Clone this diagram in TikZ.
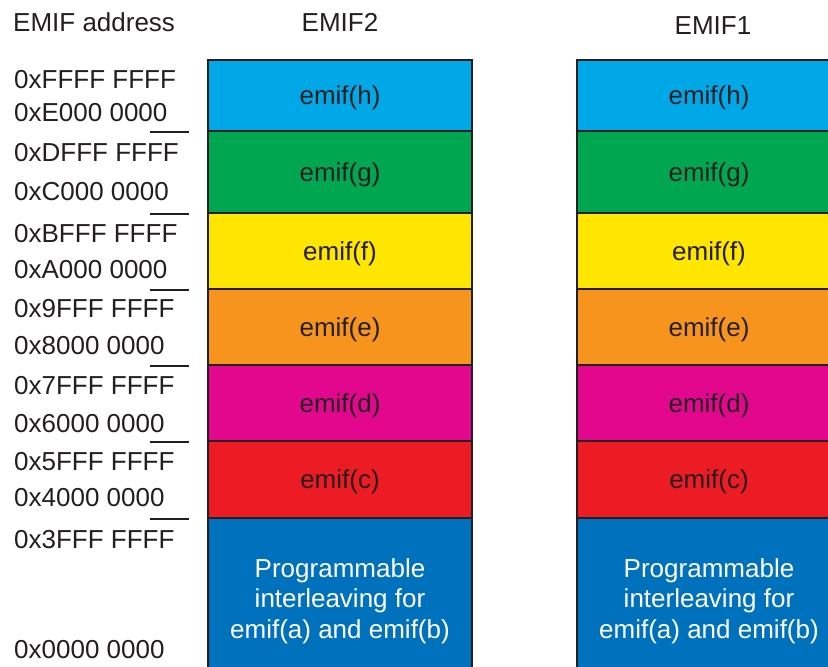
\documentclass[tikz,border=0pt]{standalone}
\usepackage{fontspec}
\setmainfont{Liberation Sans}
\usepackage{tikz}
\usetikzlibrary{positioning}
\definecolor{emifh}{HTML}{00A8E8}
\definecolor{emifg}{HTML}{00A650}
\definecolor{emiff}{HTML}{FFE600}
\definecolor{emife}{HTML}{F7941D}
\definecolor{emifd}{HTML}{E2078C}
\definecolor{emifc}{HTML}{ED1C24}
\definecolor{emifab}{HTML}{0071BC}
\definecolor{edge}{HTML}{231F20}

\begin{document}
\begin{tikzpicture}[x=1pt, y=-1pt,
    font=\fontsize{26}{30.5}\selectfont, text=edge,
    bank/.style={draw=edge, line width=2.4pt, minimum width=264pt,
                 inner sep=0pt, align=center},
    addr/.style={anchor=west, inner sep=0pt},
    tick/.style={draw=edge, line width=2pt}]
  \useasboundingbox (0,0) rectangle (828,667);
  \clip (0,0) rectangle (828,667);
  % headings
  \node[addr] (hdr) at (13,22) {EMIF address};
  \node (emiftwo) at (340,22) {EMIF2};
  \node (emifone) at (713,26) {EMIF1};
  % banks, top to bottom
  \foreach \col/\cx in {two/340, one/709} {
    \foreach \nm/\ytop/\ybot in {h/60/131, g/131/213, f/213/289,
                                 e/289/365, d/365/441, c/441/518} {
      \pgfmathsetmacro{\rowh}{\ybot-\ytop}
      \node[bank, fill=emif\nm, minimum height=\rowh pt,
            label={[yshift=-2.5pt]center:emif(\nm)}]
        (\col-\nm) at (\cx, {(\ytop+\ybot)/2}) {};
    }
    \node[bank, fill=emifab, text=white, minimum height=166pt]
      (\col-ab) at (\cx,601) {Programmable\\interleaving for\\emif(a) and emif(b)};
  }
  % boundary marks
  \foreach \nm in {h,g,f,e,d,c} {
    \draw[tick] ([xshift=-57pt]two-\nm.south west) -- ++(39,0);
  }
  % addresses
  \foreach \y/\txt in {80/0xFFFF FFFF, 113/0xE000 0000, 153/0xDFFF FFFF,
                       192/0xC000 0000, 234/0xBFFF FFFF, 270/0xA000 0000,
                       309/0x9FFF FFFF, 346/0x8000 0000, 386/0x7FFF FFFF,
                       424/0x6000 0000, 462/0x5FFF FFFF, 498/0x4000 0000,
                       540/0x3FFF FFFF, 650/0x0000 0000} {
    \node[addr] (addr-\y) at (14,\y) {\txt};
  }
\end{tikzpicture}
\end{document}
